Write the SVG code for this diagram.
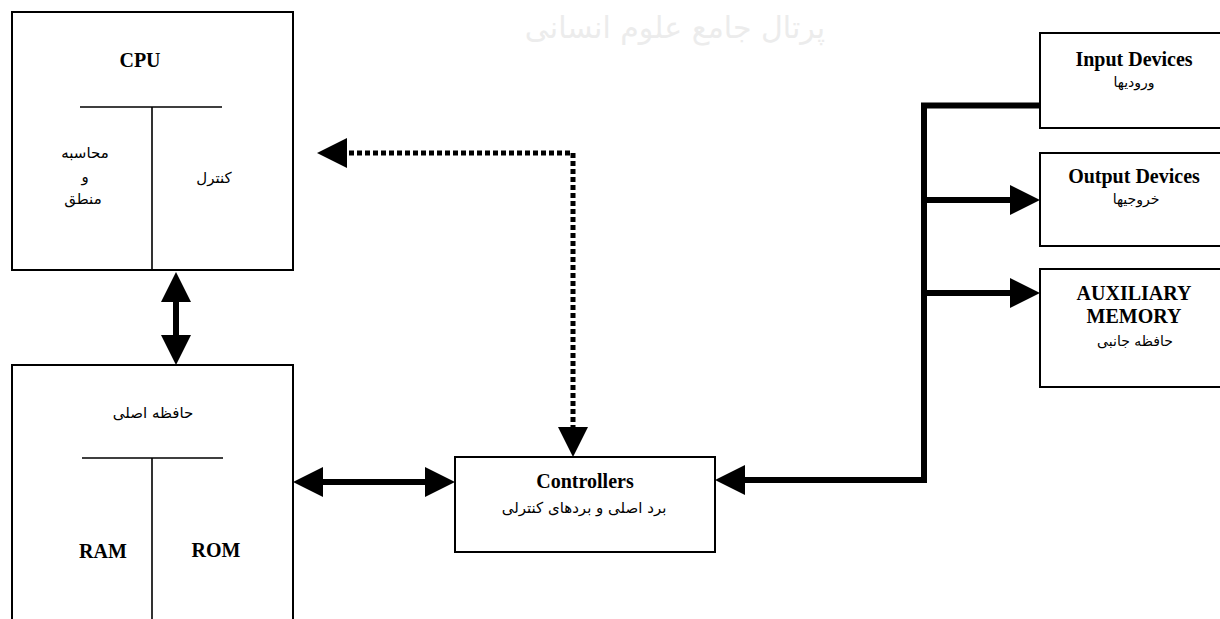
<svg xmlns="http://www.w3.org/2000/svg" width="1220" height="619" viewBox="0 0 1220 619">
<style>
.box{fill:#fff;stroke:#000;stroke-width:2}
.div{fill:none;stroke:#000;stroke-width:1.6}
.en{font-family:"Liberation Serif","Times New Roman",serif;font-weight:bold;font-size:20px;fill:#000;text-anchor:middle}
.fa{font-family:"DejaVu Sans","Noto Sans",sans-serif;font-size:15px;fill:#000;text-anchor:middle}
.fs{font-size:14px}
.bus{fill:none;stroke:#000;stroke-width:6}
.dot{fill:none;stroke:#000;stroke-width:5;stroke-dasharray:5 3}
.wm{font-family:"DejaVu Sans",sans-serif;font-size:30px;fill:#ececec;text-anchor:middle}
</style>
<defs>
<path id="ah" d="M0,0 L-30,-15 L-30,15 Z" fill="#000"/>
</defs>
<rect width="1220" height="619" fill="#fff"/>
<text class="wm" x="675" y="38" direction="rtl">پرتال جامع علوم انسانی</text>

<g id="cpu">
<rect class="box" x="12" y="12" width="281" height="258"/>
<path class="div" d="M80,107 H222 M152,107 V270"/>
<text class="en" x="140" y="67">CPU</text>
<text class="fa" x="85" y="158">محاسبه</text>
<text class="fa" x="85" y="182">و</text>
<text class="fa" x="83" y="204">منطق</text>
<text class="fa" x="214" y="183">کنترل</text>
</g>

<g id="main-memory">
<rect class="box" x="12" y="365" width="281" height="262"/>
<path class="div" d="M82,458 H223 M152,458 V620"/>
<text class="fa" x="153" y="418">حافظه اصلی</text>
<text class="en" x="103" y="558">RAM</text>
<text class="en" x="216" y="557">ROM</text>
</g>

<g id="controllers">
<rect class="box" x="455" y="457" width="260" height="95"/>
<text class="en" x="585" y="488">Controllers</text>
<text class="fa" x="584" y="513">برد اصلی و بردهای کنترلی</text>
</g>

<g id="input-devices">
<rect class="box" x="1040" y="33" width="190" height="95"/>
<text class="en" x="1134" y="66">Input Devices</text>
<text class="fa fs" x="1134" y="87">ورودیها</text>
</g>

<g id="output-devices">
<rect class="box" x="1040" y="153" width="190" height="93"/>
<text class="en" x="1134" y="183">Output Devices</text>
<text class="fa fs" x="1136" y="204">خروجیها</text>
</g>

<g id="auxiliary-memory">
<rect class="box" x="1040" y="269" width="190" height="118"/>
<text class="en" x="1134" y="300">AUXILIARY</text>
<text class="en" x="1134" y="323">MEMORY</text>
<text class="fa fs" x="1135" y="346">حافظه جانبی</text>
</g>

<g id="connectors">
<line class="bus" x1="176" y1="298" x2="176" y2="340"/>
<use href="#ah" transform="translate(176,272) rotate(-90)"/>
<use href="#ah" transform="translate(176,365) rotate(90)"/>

<line class="bus" x1="318" y1="482" x2="430" y2="482"/>
<use href="#ah" transform="translate(293,482) rotate(180)"/>
<use href="#ah" transform="translate(455,482)"/>

<path class="dot" d="M573,430 V153 H343"/>
<use href="#ah" transform="translate(317,153) rotate(180)"/>
<use href="#ah" transform="translate(573,457) rotate(90)"/>

<path class="bus" d="M1040,105.5 H924 V480 H740"/>
<use href="#ah" transform="translate(715,480) rotate(180)"/>
<line class="bus" x1="924" y1="200" x2="1015" y2="200"/>
<use href="#ah" transform="translate(1040,200)"/>
<line class="bus" x1="924" y1="293" x2="1015" y2="293"/>
<use href="#ah" transform="translate(1040,293)"/>
</g>
</svg>
